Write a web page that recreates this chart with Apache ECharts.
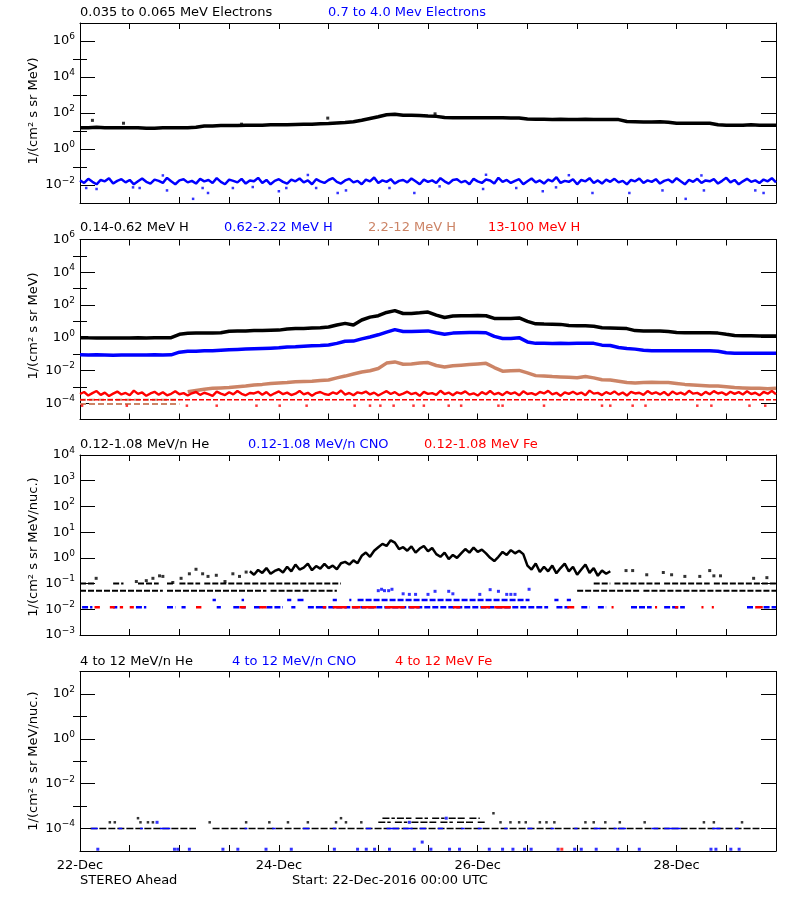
<!DOCTYPE html>
<html><head><meta charset="utf-8">
<script src="https://cdn.jsdelivr.net/npm/echarts@6/dist/echarts.min.js"></script>
<style>html,body{margin:0;padding:0;background:#fff}#c{width:800px;height:900px}</style>
</head><body><div id="c"></div>
<script>
// ---------- DATA (time in hours since 22-Dec-2016 00:00 UTC) ----------
const dayLabels = ['22-Dec','24-Dec','26-Dec','28-Dec'];
const dayLabelHours = [0,48,96,144];

// Panel 1: electrons
const eLowStep = 2;
const eLowVals = [15,15,16,15,15,15,15,15,14,14,15,15,15,15,16,19,19,20,20,20,21,21,21,22,22,22,23,24,24,25,26,28,30,33,40,50,62,80,85,75,74,72,68,65,56,55,55,54,55,54,55,54,53,53,46,45,45,44,45,44,44,45,44,44,43,43,34,33,32,32,33,31,27,27,27,27,27,22,21,21,21,22,21,21,21];
const eLowOutliers = [[3,39],[10.5,27],[39,24],[59.8,52],[85.7,90]];
const eHighStep = 1;
const eHighVals = [0.018,0.013,0.022,0.015,0.011,0.019,0.016,0.024,0.012,0.017,
0.021,0.014,0.019,0.011,0.016,0.023,0.015,0.012,0.02,0.017,
0.013,0.025,0.016,0.011,0.018,0.021,0.014,0.017,0.012,0.022,
0.016,0.019,0.013,0.024,0.015,0.011,0.02,0.017,0.014,0.022,
0.012,0.018,0.016,0.025,0.013,0.019,0.011,0.017,0.021,0.015,
0.012,0.02,0.016,0.023,0.014,0.018,0.011,0.021,0.016,0.013,
0.019,0.024,0.015,0.012,0.018,0.022,0.014,0.017,0.011,0.02,
0.016,0.026,0.013,0.018,0.015,0.021,0.012,0.017,0.019,0.014,
0.023,0.016,0.011,0.02,0.015,0.018,0.013,0.024,0.016,0.012,
0.019,0.021,0.014,0.017,0.011,0.022,0.016,0.013,0.02,0.018,
0.012,0.025,0.015,0.019,0.013,0.017,0.021,0.011,0.016,0.023,
0.014,0.018,0.012,0.02,0.016,0.027,0.013,0.017,0.015,0.021,
0.011,0.019,0.016,0.024,0.013,0.018,0.012,0.02,0.015,0.022,
0.014,0.017,0.011,0.019,0.016,0.023,0.013,0.018,0.015,0.021,
0.012,0.017,0.02,0.014,0.024,0.016,0.011,0.019,0.015,0.022,
0.013,0.018,0.016,0.021,0.012,0.017,0.025,0.014,0.019,0.011,
0.016,0.022,0.015,0.018,0.013,0.02,0.016,0.024,0.014];
const eHighOutliers = [[1.5,0.0068],[4,0.006],[12.8,0.0074],[14.4,0.0068],[21,0.005],[27.3,0.0017],[29.6,0.0068],[30.9,0.0036],[36.9,0.0068],[41.7,0.0077],[48,0.0045],[49.8,0.0068],[57,0.0068],[62.2,0.0036],[64.2,0.005],[74.7,0.0068],[80.7,0.0036],[86.8,0.0084],[97.3,0.006],[105.3,0.0068],[111.7,0.0045],[114.9,0.0074],[123.7,0.0036],[132.6,0.0036],[140.6,0.005],[146.2,0.0017],[150.6,0.005],[163,0.005],[165,0.0036],[20,0.034],[55,0.036],[98,0.037],[118,0.035],[150,0.034]];

// Panel 2: protons
const hStep = 2;
const hLowVals = [1.0,0.98,0.97,0.97,0.96,0.97,0.97,0.98,0.97,0.98,0.98,1.0,1.6,1.85,1.9,1.9,1.95,2.0,2.5,2.6,2.6,2.7,2.7,2.8,2.9,3.4,3.6,3.7,3.9,4.1,4.5,6.0,7.5,6.0,12,18,22,35,45,30,30,33,37,24,17,21,22,22,23,22,15,15,15,16,10,7,6.8,6.7,6.5,5.5,5.4,5.3,5.0,4.0,3.9,3.8,3.6,2.7,2.6,2.6,2.6,2.4,2.1,2.0,2.0,2.0,2.0,1.9,1.6,1.35,1.3,1.3,1.28,1.25,1.25];
const hMidVals = [0.09,0.088,0.09,0.088,0.085,0.087,0.088,0.086,0.088,0.09,0.088,0.09,0.13,0.15,0.15,0.16,0.16,0.17,0.18,0.19,0.2,0.21,0.22,0.23,0.24,0.27,0.28,0.3,0.32,0.33,0.36,0.45,0.6,0.62,0.85,1.1,1.5,2.2,3.1,2.4,2.4,2.5,2.6,2.0,1.6,1.9,2.0,2.1,2.1,2.0,1.2,0.9,0.9,1.0,0.55,0.45,0.45,0.44,0.45,0.44,0.45,0.46,0.45,0.35,0.33,0.25,0.22,0.2,0.17,0.16,0.16,0.16,0.16,0.16,0.16,0.16,0.16,0.15,0.12,0.11,0.11,0.11,0.11,0.11,0.11];
const hHighStart = 26;
const hHighVals = [5e-4,6e-4,7e-4,8e-4,8.5e-4,9e-4,1.0e-3,1.1e-3,1.3e-3,1.4e-3,1.6e-3,1.7e-3,1.8e-3,2.0e-3,2.1e-3,2.2e-3,2.4e-3,2.6e-3,3.5e-3,4.5e-3,6e-3,8e-3,9.5e-3,0.013,0.028,0.033,0.024,0.025,0.028,0.03,0.02,0.016,0.019,0.021,0.023,0.025,0.027,0.015,0.009,0.0095,0.01,0.007,0.0048,0.0045,0.0042,0.004,0.0038,0.0036,0.0042,0.0035,0.0027,0.0026,0.0022,0.0018,0.0017,0.0018,0.0019,0.0018,0.0018,0.0016,0.0014,0.0013,0.0012,0.0011,0.0011,0.001,0.0009,0.00085,0.0008,0.00082,0.00075,0.0008];
const hHighEarlyRows = [{level:1.6e-4, segs:[[0,24]]},{level:0.9e-4, segs:[[0,24]]}];
const hTopStep = 1;
const hTopVals = [3.6e-4,4.8e-4,2.9e-4,4.1e-4,5.5e-4,3.2e-4,4.4e-4,2.7e-4,3.8e-4,5.1e-4,
3.4e-4,4.2e-4,3.0e-4,5.8e-4,3.7e-4,4.5e-4,2.8e-4,3.9e-4,4.9e-4,3.3e-4,
4.6e-4,3.0e-4,3.7e-4,5.3e-4,3.5e-4,4.1e-4,2.9e-4,4.0e-4,4.8e-4,3.2e-4,
4.3e-4,3.6e-4,2.8e-4,5.0e-4,3.8e-4,3.1e-4,4.6e-4,3.4e-4,5.5e-4,3.7e-4,
3.0e-4,4.2e-4,3.9e-4,4.9e-4,3.3e-4,4.7e-4,2.9e-4,4.0e-4,5.2e-4,3.5e-4,
4.4e-4,3.1e-4,3.8e-4,5.6e-4,3.4e-4,4.3e-4,2.8e-4,4.1e-4,4.8e-4,3.6e-4,
3.2e-4,4.5e-4,3.7e-4,5.9e-4,3.3e-4,4.2e-4,3.0e-4,4.6e-4,3.9e-4,5.1e-4,
3.4e-4,4.4e-4,2.9e-4,4.0e-4,5.4e-4,3.6e-4,4.7e-4,3.1e-4,3.8e-4,5.0e-4,
3.5e-4,4.3e-4,2.8e-4,4.9e-4,3.7e-4,4.1e-4,3.2e-4,5.7e-4,3.6e-4,4.4e-4,
3.0e-4,4.6e-4,3.8e-4,5.2e-4,3.3e-4,4.0e-4,2.9e-4,4.7e-4,3.5e-4,5.5e-4,
3.4e-4,4.2e-4,3.1e-4,4.9e-4,3.7e-4,4.5e-4,3.0e-4,5.3e-4,3.6e-4,4.1e-4,
3.2e-4,4.8e-4,3.9e-4,5.6e-4,3.4e-4,4.3e-4,2.8e-4,4.6e-4,3.7e-4,5.0e-4,
3.5e-4,4.4e-4,3.0e-4,5.8e-4,3.8e-4,4.2e-4,3.1e-4,4.7e-4,3.6e-4,5.2e-4,
3.3e-4,4.5e-4,2.9e-4,4.9e-4,3.9e-4,4.3e-4,3.2e-4,5.5e-4,3.7e-4,4.6e-4,
3.4e-4,4.8e-4,3.0e-4,5.1e-4,3.6e-4,4.4e-4,3.3e-4,5.7e-4,3.8e-4,4.2e-4,
3.1e-4,4.9e-4,3.5e-4,5.4e-4,3.9e-4,4.5e-4,3.2e-4,5.0e-4,3.7e-4,4.7e-4,
3.4e-4,5.3e-4,3.6e-4,4.3e-4,3.0e-4,4.8e-4,3.8e-4,5.6e-4,3.5e-4];
const hTopRows = [{level:1.6e-4, segs:[[0,168]]}];
const hTopSparse = [[0.5,7e-5],[11.3,7e-5],[25.8,7e-5],[33,7e-5],[42.6,7e-5],[48.2,7e-5],[54.7,7e-5],[66.3,7e-5],[70,7e-5],[72.5,7e-5],[75.7,7e-5],[80.5,7e-5],[83,7e-5],[89,7e-5],[92,7e-5],[101,7e-5],[102,7e-5],[112,7e-5],[126,7e-5],[128,7e-5],[133.4,7e-5],[136.5,7e-5],[149,7e-5],[152.4,7e-5],[161.6,7e-5],[165.4,7e-5]];

// Panel 3: 0.12-1.08 MeV/n ions
const heLoRows = [{level:0.1, segs:[[0,3.5],[8,10.5],[14,19],[21,22.5],[24,29],[30,63],[124,128],[129,140],[141,152],[153,168]]},
                  {level:0.053, segs:[[0,20],[21,45],[46,62],[120,135],[136,168]]}];
const heLoStart = 41;
const heLoVals = [0.3,0.22,0.34,0.26,0.4,0.24,0.31,0.36,0.27,0.45,0.3,0.55,0.35,0.42,0.6,0.33,0.48,0.38,0.58,0.4,0.5,0.36,0.62,0.7,0.55,0.8,0.62,1.2,1.6,1.1,1.9,2.6,3.5,2.9,4.8,3.9,2.2,2.6,1.9,2.8,1.6,2.3,2.9,1.8,2.4,1.4,1.1,1.6,0.9,1.3,1.0,1.5,2.2,1.6,2.5,1.7,2.1,1.5,1.0,0.75,1.1,1.7,1.3,2.0,1.5,1.9,1.4,0.5,0.35,0.6,0.28,0.45,0.3,0.5,0.25,0.4,0.6,0.3,0.45,0.22,0.35,0.55,0.26,0.4,0.2,0.32,0.24,0.3];
const heLoSparse = [[3.9,0.16],[13.6,0.12],[16,0.13],[17.6,0.16],[19.2,0.2],[20,0.19],[22.4,0.11],[24.4,0.16],[26.4,0.24],[28,0.36],[29.6,0.24],[30.9,0.19],[32.9,0.21],[35,0.12],[36.9,0.24],[38.5,0.19],[40.1,0.28],[131.8,0.32],[133.4,0.32],[136.8,0.22],[140.8,0.27],[142.8,0.22],[146,0.19],[149.6,0.19],[152,0.32],[153,0.2],[154.6,0.2],[162.6,0.16],[165.8,0.17]];
const cnoLoRows = [{level:0.012, segs:[[0.5,3],[8,9],[13.5,16],[21,23],[24.5,25.5],[33,34],[37,40],[42,44],[45,49],[51,52],[55,58],[58,113],[115,118],[121,123],[125,127],[133,138],[141,146],[161,163],[165,168]]},
                   {level:0.023, segs:[[32,32.8],[39,39.6],[50,51],[52.5,54],[61,62],[65,65.5],[67,108.5],[114.5,115.5],[117.5,118.5]]}];
const cnoLoSparse = [[72,0.053],[72.8,0.06],[73.5,0.053],[74.5,0.053],[75.3,0.06],[78,0.04],[79.5,0.038],[81,0.038],[84,0.038],[85.7,0.05],[89,0.05],[90,0.04],[96.5,0.038],[99,0.058],[101,0.05],[103,0.038],[104,0.038],[105,0.038],[108.4,0.06]];
const feLoRows = [{level:0.012, segs:[[3.5,4.8],[7.2,8.4],[9.6,10.4],[12,13],[28,29.3],[38.5,40],[43.3,45],[58.6,59.4],[61,64.4],[65.6,67.6],[68,71.5],[73.6,78.4],[79.5,82],[90,91.8],[96.8,99],[100,104],[117.6,119.3],[128.3,128.8],[138.8,139.3],[143.6,144.4],[150,150.5],[152.5,153],[163,164.8]]}];

// Panel 4: 4-12 MeV/n ions
const heHiRows = [{level:1e-4, segs:[[2.5,28],[32,164]]},
                  {level:2.9e-4, segs:[[73,76],[76.5,80],[81,84],[85,88],[89,93],[94,96.5]]},
                  {level:1.9e-4, segs:[[72,75],[76,79],[80,86],[87,90],[91,95],[96,98]]}];
const heHiSparse = [[7.2,1.9e-4],[8.4,1.9e-4],[14,2.9e-4],[14.6,1.9e-4],[16.4,1.9e-4],[17.6,1.9e-4],[31.3,1.9e-4],[40.1,1.9e-4],[45.7,1.9e-4],[50.2,1.9e-4],[55,1.9e-4],[61.8,1.9e-4],[63,2.9e-4],[64.2,1.9e-4],[67.9,1.9e-4],[99.8,4.8e-4],[101.5,1.9e-4],[103.9,1.9e-4],[106,1.9e-4],[107.6,1.9e-4],[111,1.9e-4],[112.6,1.9e-4],[114.5,1.9e-4],[122,1.9e-4],[124,1.9e-4],[126.8,1.9e-4],[130.3,1.9e-4],[136.3,1.9e-4],[150.6,1.9e-4],[153,1.9e-4],[159.8,1.9e-4]];
const cnoHiRows = [{level:1e-4, segs:[[2.7,4.3],[9.3,10.2],[14.5,15.2],[19.3,21.8],[39.7,40.4],[46.4,47.2],[53.8,55.4],[61,61.8],[69,70.3],[74,77],[78,80.3],[82,83.5],[86.4,87.6],[92,92.8],[96,97],[102.4,103.2],[108,109.2],[113.6,114.4],[119.3,120.1],[124,125.6],[128.8,129.6],[130,131.8],[138,139.6],[141,145],[152.6,154.6],[158.2,159]]}];
const cnoHiSparse = [[4.3,1.2e-5],[22.8,1.2e-5],[23.6,1.2e-5],[26.4,1.2e-5],[34.5,1.2e-5],[38.1,1.2e-5],[44.9,1.2e-5],[51,1.2e-5],[61.4,1.2e-5],[67,1.2e-5],[69.1,1.2e-5],[71.1,1.2e-5],[74.7,1.2e-5],[80.7,1.2e-5],[82.6,2.5e-5],[84.7,1.2e-5],[89.2,1.2e-5],[91.6,1.2e-5],[98.8,1.2e-5],[102,1.2e-5],[104.5,1.2e-5],[107.3,1.2e-5],[108.9,1.2e-5],[115.4,1.2e-5],[119.4,1.2e-5],[121,1.2e-5],[124.6,1.2e-5],[129.8,1.2e-5],[135,1.2e-5],[152.3,1.2e-5],[153.5,1.2e-5],[157.1,1.2e-5],[159.1,1.2e-5],[18.6,1.9e-4],[79.5,1.9e-4],[88.4,2.9e-4]];
const feHiSparse = [[116.3,1.2e-5]];

// axis ranges / ticks
const yRanges = [[1e-3,1e7],[1e-5,1e6],[1e-3,1e4],[1e-5,1e3]];
const yMajor = [[1e-2,1,1e2,1e4,1e6],[1e-4,1e-2,1,1e2,1e4,1e6],[1e-3,1e-2,1e-1,1,10,100,1e3,1e4],[1e-4,1e-2,1,1e2]];
const yMinor = [[1e-1,10,1e3,1e5],[1e-3,1e-1,10,1e3,1e5],[],[1e-3,1e-1,10]];
const yTitles = ['1/(cm² s sr MeV)','1/(cm² s sr MeV)','1/(cm² s sr MeV/nuc.)','1/(cm² s sr MeV/nuc.)'];
const panelTitles = [
  [['0.035 to 0.065 MeV Electrons','#000000'],['0.7 to 4.0 Mev Electrons','#0000ff']],
  [['0.14-0.62 MeV H','#000000'],['0.62-2.22 MeV H','#0000ff'],['2.2-12 MeV H','#cc8466'],['13-100 MeV H','#ff0000']],
  [['0.12-1.08 MeV/n He','#000000'],['0.12-1.08 MeV/n CNO','#0000ff'],['0.12-1.08 MeV Fe','#ff0000']],
  [['4 to 12 MeV/n He','#000000'],['4 to 12 MeV/n CNO','#0000ff'],['4 to 12 MeV Fe','#ff0000']]
];
const footerLeft = 'STEREO Ahead';
const footerRight = 'Start: 22-Dec-2016 00:00 UTC';

// ---------- LAYOUT ----------
const FONT = '"DejaVu Sans", sans-serif';
const BLACK='#000000', BLUE='#0000ff', RED='#ff0000', BROWN='#cc8466';
const gridBoxes = [{top:23,height:180},{top:239.5,height:180},{top:455,height:180},{top:671.5,height:179.5}];
const titleX = [[80,328],[80,224,368,488],[80,248,424],[80,232,395]];
const titleY = [13,228,445,662];
const yTitleY = [111,326,547,761];

function expLabel(v){
  const e = Math.round(Math.log10(v));
  return '{b|10}{s|' + (e<0 ? '\u2212'+(-e) : e) + '}';
}
const richLbl = {
  b:{fontSize:13, fontFamily:FONT, color:'#000', lineHeight:18},
  s:{fontSize:9, fontFamily:FONT, color:'#000', lineHeight:9, verticalAlign:'top'}
};

const grid=[], xAxis=[], yAxis=[], series=[];
gridBoxes.forEach((g,i)=>{
  grid.push({left:80, width:696, top:g.top, height:g.height, containLabel:false, outerBoundsMode:'none'});
  ['bottom','top'].forEach(pos=>{
    xAxis.push({gridIndex:i, type:'value', min:0, max:168, interval:12, position:pos,
      axisLine:{show:true, onZero:false, lineStyle:{color:'#000', width:1}},
      axisTick:{show:true, inside:true, length:6, lineStyle:{color:'#000'}},
      axisLabel:{show: (i===3 && pos==='bottom'), customValues:dayLabelHours, margin:8,
        fontSize:13, fontFamily:FONT, color:'#000',
        formatter:v=>dayLabels[dayLabelHours.indexOf(v)] || ''},
      splitLine:{show:false}});
  });
  const [mn,mx] = yRanges[i];
  ['left','right'].forEach(pos=>{
    yAxis.push({gridIndex:i, type:'log', logBase:10, min:mn, max:mx, position:pos,
      axisLine:{show:true, onZero:false, lineStyle:{color:'#000', width:1}},
      axisTick:{show:true, inside:true, length:15, customValues:yMajor[i], lineStyle:{color:'#000'}},
      axisLabel:{show: pos==='left', customValues:yMajor[i], margin:5, formatter:expLabel, rich:richLbl},
      splitLine:{show:false}, minorTick:{show:false}});
    yAxis.push({gridIndex:i, type:'log', logBase:10, min:mn, max:mx, position:pos,
      axisLine:{show:false},
      axisTick:{show: yMinor[i].length>0, inside:true, length:7, customValues: yMinor[i].length? yMinor[i] : [mn], lineStyle:{color:'#000'}},
      axisLabel:{show:false}, splitLine:{show:false}});
  });
});

function lineSeries(g, data, color, width, z, dash){
  return {type:'line', xAxisIndex:2*g, yAxisIndex:4*g, data, showSymbol:false, symbol:'none',
    lineStyle:{color, width, type: dash||'solid'}, itemStyle:{color}, silent:true, animation:false, z: z||2, connectNulls:false, clip:true};
}
function scatterSeries(g, data, color, size, z){
  return {type:'scatter', xAxisIndex:2*g, yAxisIndex:4*g, data, symbol:'rect', symbolSize:size,
    itemStyle:{color}, silent:true, animation:false, z: z||3, clip:true};
}
function stepped(vals, start, step){ return vals.map((v,k)=>[start + k*step, v]); }
function rowData(rows){
  const d=[];
  rows.forEach(r=>r.segs.forEach(([a,b])=>{ d.push([a,r.level],[b,r.level],[b,'-']); }));
  return d;
}

// Panel 1
series.push(lineSeries(0, stepped(eLowVals,0,eLowStep), BLACK, 3.5));
series.push(scatterSeries(0, eLowOutliers, BLACK, 3));
series.push(lineSeries(0, stepped(eHighVals,0,eHighStep), BLUE, 2.5));
series.push(scatterSeries(0, eHighOutliers, BLUE, 2.5));
// Panel 2
series.push(lineSeries(1, stepped(hLowVals,0,hStep), BLACK, 3.5));
series.push(lineSeries(1, stepped(hMidVals,0,hStep), BLUE, 3.5));
series.push(lineSeries(1, stepped(hHighVals,hHighStart,hStep), BROWN, 3.5));
series.push(lineSeries(1, rowData(hHighEarlyRows), BROWN, 2, 2, [6,3]));
series.push(lineSeries(1, stepped(hTopVals,0,hTopStep), RED, 2.4, 4));
series.push(lineSeries(1, rowData(hTopRows), RED, 1.5, 4, [5,2]));
series.push(scatterSeries(1, hTopSparse, RED, 2.5, 4));
// Panel 3
series.push(lineSeries(2, rowData(heLoRows), BLACK, 2, 2, [6,2]));
series.push(lineSeries(2, stepped(heLoVals,heLoStart,1), BLACK, 2.5));
series.push(scatterSeries(2, heLoSparse, BLACK, 3));
series.push(lineSeries(2, rowData(cnoLoRows), BLUE, 2.5, 3, [6,2]));
series.push(scatterSeries(2, cnoLoSparse, BLUE, 3));
series.push(lineSeries(2, rowData(feLoRows), RED, 2.5, 4));
// Panel 4
series.push(lineSeries(3, rowData(heHiRows), BLACK, 1.5, 2, [7,2]));
series.push(scatterSeries(3, heHiSparse, BLACK, 2.5));
series.push(lineSeries(3, rowData(cnoHiRows), BLUE, 1.5, 3));
series.push(scatterSeries(3, cnoHiSparse, BLUE, 3));
series.push(scatterSeries(3, feHiSparse, RED, 3, 4));

// texts
const graphic = [];
const txtStyle = (text, fill, align) => ({text, fill, font:'13px '+FONT, align: align||'left', verticalAlign:'middle'});
panelTitles.forEach((arr,i)=>arr.forEach(([t,c],k)=>{
  graphic.push({type:'text', x:titleX[i][k], y:titleY[i], style:txtStyle(t,c), silent:true});
}));
yTitles.forEach((t,i)=>{
  graphic.push({type:'text', x:33.5, y:yTitleY[i], rotation:Math.PI/2, style:txtStyle(t,'#000','center'), silent:true});
});
graphic.push({type:'text', x:80, y:881, style:txtStyle(footerLeft,'#000'), silent:true});
graphic.push({type:'text', x:292, y:881, style:txtStyle(footerRight,'#000'), silent:true});

const chart = echarts.init(document.getElementById('c'), null, {renderer:'canvas'});
chart.setOption({backgroundColor:'#fff', animation:false, grid, xAxis, yAxis, series, graphic});
</script>
</body></html>
